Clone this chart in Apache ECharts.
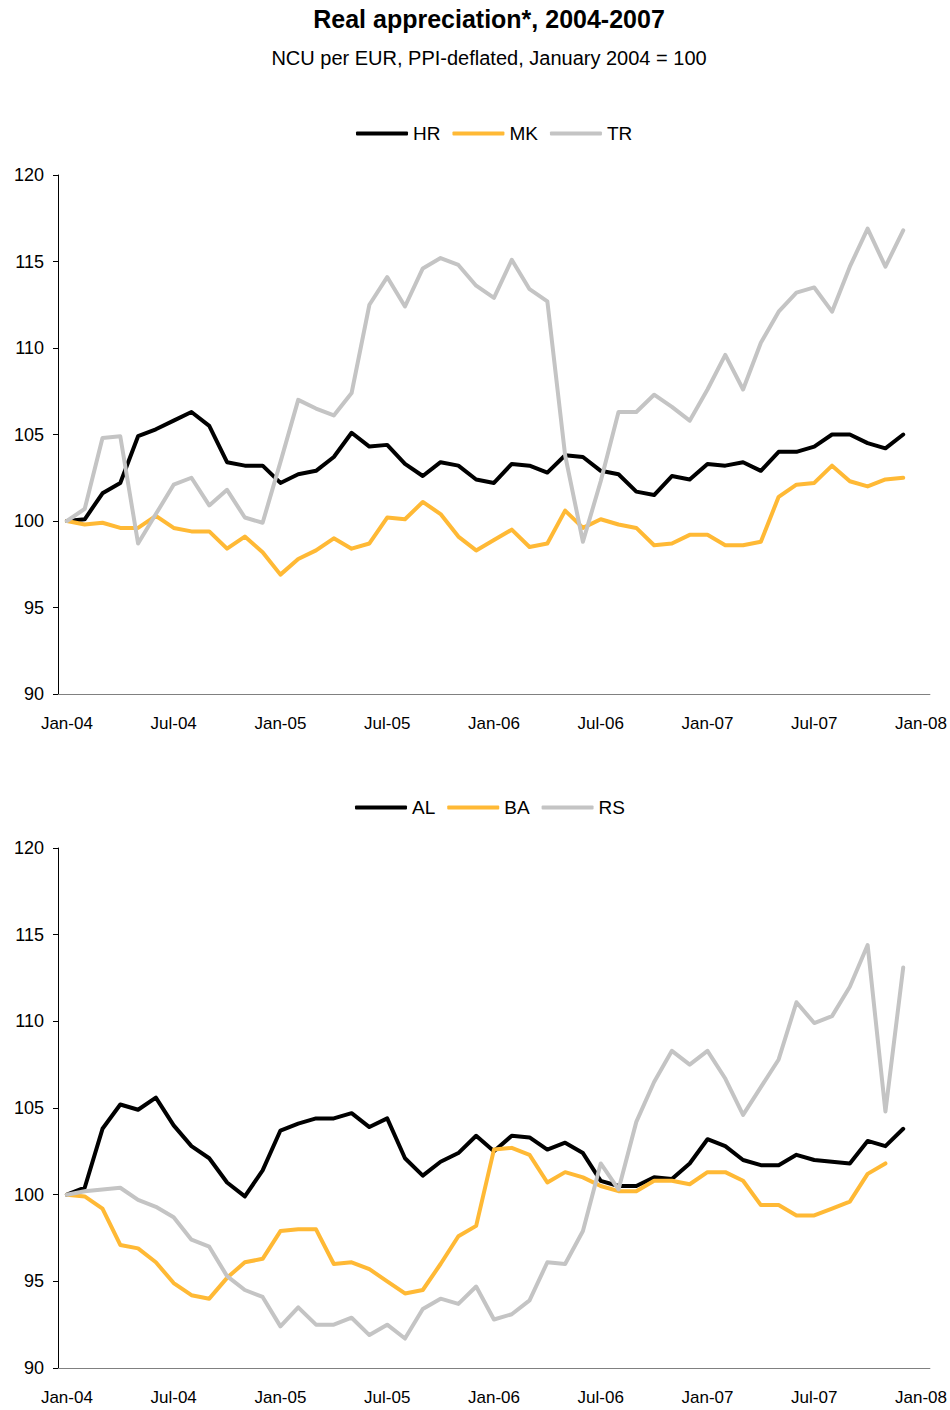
<!DOCTYPE html>
<html>
<head>
<meta charset="utf-8">
<title>Real appreciation*, 2004-2007</title>
<script src="https://cdn.jsdelivr.net/npm/echarts@6.0.0/dist/echarts.min.js"></script>
<style>
  html, body { margin: 0; padding: 0; background: #fff; }
  #chart { width: 950px; height: 1410px; }
</style>
</head>
<body>
<div id="chart"></div>
<script>
// monthly categories, last slot (Jan-08) has no data
const months = [
  'Jan-04', 'Feb-04', 'Mar-04', 'Apr-04', 'May-04', 'Jun-04', 'Jul-04', 'Aug-04', 'Sep-04', 'Oct-04', 'Nov-04', 'Dec-04',
  'Jan-05', 'Feb-05', 'Mar-05', 'Apr-05', 'May-05', 'Jun-05', 'Jul-05', 'Aug-05', 'Sep-05', 'Oct-05', 'Nov-05', 'Dec-05',
  'Jan-06', 'Feb-06', 'Mar-06', 'Apr-06', 'May-06', 'Jun-06', 'Jul-06', 'Aug-06', 'Sep-06', 'Oct-06', 'Nov-06', 'Dec-06',
  'Jan-07', 'Feb-07', 'Mar-07', 'Apr-07', 'May-07', 'Jun-07', 'Jul-07', 'Aug-07', 'Sep-07', 'Oct-07', 'Nov-07', 'Dec-07',
  'Jan-08'
]

// top panel
const hr = [100.0, 100.1, 101.6, 102.2, 104.9, 105.3, 105.8, 106.3, 105.5, 103.4, 103.2, 103.2,
  102.2, 102.7, 102.9, 103.7, 105.1, 104.3, 104.4, 103.3, 102.6, 103.4, 103.2, 102.4,
  102.2, 103.3, 103.2, 102.8, 103.8, 103.7, 102.9, 102.7, 101.7, 101.5, 102.6, 102.4,
  103.3, 103.2, 103.4, 102.9, 104.0, 104.0, 104.3, 105.0, 105.0, 104.5, 104.2, 105.0]
const mk = [100.0, 99.8, 99.9, 99.6, 99.6, 100.3, 99.6, 99.4, 99.4, 98.4, 99.1, 98.2,
  96.9, 97.8, 98.3, 99.0, 98.4, 98.7, 100.2, 100.1, 101.1, 100.4, 99.1, 98.3,
  98.9, 99.5, 98.5, 98.7, 100.6, 99.6, 100.1, 99.8, 99.6, 98.6, 98.7, 99.2,
  99.2, 98.6, 98.6, 98.8, 101.4, 102.1, 102.2, 103.2, 102.3, 102.0, 102.4, 102.5]
const tr = [100.0, 100.7, 104.8, 104.9, 98.7, 100.4, 102.1, 102.5, 100.9, 101.8, 100.2, 99.9,
  103.4, 107.0, 106.5, 106.1, 107.4, 112.5, 114.1, 112.4, 114.6, 115.2, 114.8, 113.6,
  112.9, 115.1, 113.4, 112.7, 103.8, 98.8, 102.3, 106.3, 106.3, 107.3, 106.6, 105.8,
  107.6, 109.6, 107.6, 110.3, 112.1, 113.2, 113.5, 112.1, 114.7, 116.9, 114.7, 116.8]

// bottom panel
const al = [100.0, 100.4, 103.8, 105.2, 104.9, 105.6, 104.0, 102.8, 102.1, 100.7, 99.9, 101.4,
  103.7, 104.1, 104.4, 104.4, 104.7, 103.9, 104.4, 102.1, 101.1, 101.9, 102.4, 103.4,
  102.5, 103.4, 103.3, 102.6, 103.0, 102.4, 100.8, 100.5, 100.5, 101.0, 100.9, 101.8,
  103.2, 102.8, 102.0, 101.7, 101.7, 102.3, 102.0, 101.9, 101.8, 103.1, 102.8, 103.8]
const ba = [100.0, 99.9, 99.2, 97.1, 96.9, 96.1, 94.9, 94.2, 94.0, 95.2, 96.1, 96.3,
  97.9, 98.0, 98.0, 96.0, 96.1, 95.7, 95.0, 94.3, 94.5, 96.0, 97.6, 98.2,
  102.6, 102.7, 102.3, 100.7, 101.3, 101.0, 100.5, 100.2, 100.2, 100.8, 100.8, 100.6,
  101.3, 101.3, 100.8, 99.4, 99.4, 98.8, 98.8, 99.2, 99.6, 101.2, 101.8, null]
const rs = [100.0, 100.2, 100.3, 100.4, 99.7, 99.3, 98.7, 97.4, 97.0, 95.3, 94.5, 94.1,
  92.4, 93.5, 92.5, 92.5, 92.9, 91.9, 92.5, 91.7, 93.4, 94.0, 93.7, 94.7,
  92.8, 93.1, 93.9, 96.1, 96.0, 97.9, 101.8, 100.3, 104.2, 106.5, 108.3, 107.5,
  108.3, 106.7, 104.6, 106.2, 107.8, 111.1, 109.9, 110.3, 112.0, 114.4, 104.8, 113.1]

const yMin = 90
const yMax = 120
const yStep = 5

const FONT = "'Liberation Sans', Arial, sans-serif"
const BLACK = '#000000'
const ORANGE = '#ffb935'
const GREY = '#c4c4c4'

const chart = echarts.init(document.getElementById('chart'), null, { renderer: 'svg' })

function xAxisCfg(gridIndex) {
  return {
    type: 'category',
    gridIndex,
    data: months,
    boundaryGap: true,
    axisLine: { lineStyle: { color: '#808080', width: 1 } },
    axisTick: { interval: 5, length: 5, lineStyle: { color: '#808080' } },
    axisLabel: { interval: 5, color: '#000', fontSize: 17, fontFamily: FONT, margin: 21 },
    splitLine: { show: false }
  }
}

function yAxisCfg(gridIndex) {
  return {
    type: 'value',
    gridIndex,
    min: yMin,
    max: yMax,
    interval: yStep,
    axisLine: { show: true, lineStyle: { color: '#000', width: 1 } },
    axisTick: { show: true, inside: false, length: 5, lineStyle: { color: '#000' } },
    axisLabel: { color: '#000', fontSize: 18, fontFamily: FONT, margin: 14 },
    splitLine: { show: false }
  }
}

function lineSeries(name, data, color, idx) {
  return {
    name,
    type: 'line',
    xAxisIndex: idx,
    yAxisIndex: idx,
    data,
    symbol: 'none',
    showSymbol: false,
    connectNulls: false,
    lineStyle: { width: 4, color, join: 'round', cap: 'round' },
    itemStyle: { color },
    emphasis: { disabled: true }
  }
}

function legendCfg(names, left, top) {
  return {
    data: names,
    left,
    top,
    icon: 'roundRect',
    itemWidth: 52,
    itemHeight: 4,
    itemGap: 12,
    selectedMode: false,
    textStyle: { color: '#000', fontSize: 19, fontFamily: FONT, padding: [0, 0, 0, 0] }
  }
}

chart.setOption({
  backgroundColor: '#fff',
  animation: false,
  title: [
    {
      text: 'Real appreciation*, 2004-2007',
      left: 484, top: 1, textAlign: 'center',
      textStyle: { fontSize: 25, fontWeight: 'bold', color: '#000', fontFamily: FONT }
    },
    {
      text: 'NCU per EUR, PPI-deflated, January 2004 = 100',
      left: 484, top: 43, textAlign: 'center',
      textStyle: { fontSize: 20, fontWeight: 'normal', color: '#000', fontFamily: FONT }
    }
  ],
  legend: [
    legendCfg(['HR', 'MK', 'TR'], 351, 119),
    legendCfg(['AL', 'BA', 'RS'], 350, 793)
  ],
  grid: [
    { left: 58, width: 872, top: 175, height: 519 },
    { left: 58, width: 872, top: 848, height: 520 }
  ],
  xAxis: [xAxisCfg(0), xAxisCfg(1)],
  yAxis: [yAxisCfg(0), yAxisCfg(1)],
  series: [
    lineSeries('HR', hr, BLACK, 0),
    lineSeries('MK', mk, ORANGE, 0),
    lineSeries('TR', tr, GREY, 0),
    lineSeries('AL', al, BLACK, 1),
    lineSeries('BA', ba, ORANGE, 1),
    lineSeries('RS', rs, GREY, 1)
  ]
})

window.addEventListener('resize', () => chart.resize())
</script>
</body>
</html>
